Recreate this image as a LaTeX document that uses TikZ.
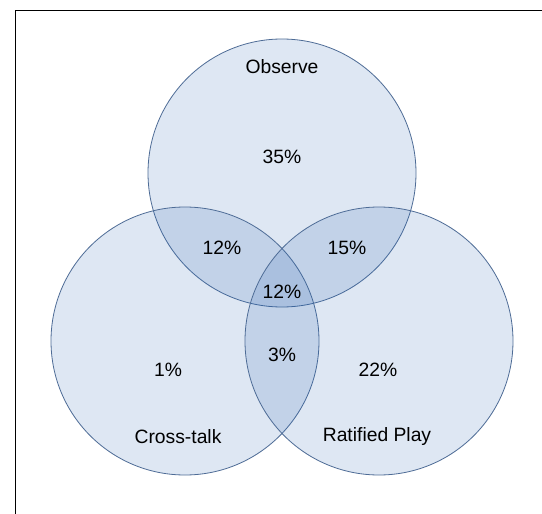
\documentclass[tikz,border=0pt]{standalone}
\usepackage{fontspec}
\setmainfont{Liberation Sans}
\usetikzlibrary{positioning}
\definecolor{vnfill}{RGB}{35,95,175}
\definecolor{vnline}{RGB}{78,108,150}

\begin{document}
\begin{tikzpicture}[
  x=1pt, y=-1pt,
  set/.style={circle, draw=vnline, line width=0.8pt, fill=vnfill, fill opacity=0.15, draw opacity=1, minimum size=268pt, inner sep=0pt},
  lbl/.style={font=\fontsize{19.3}{23}\selectfont, inner sep=1pt}
]
\useasboundingbox (0,0) rectangle (542,514);
\fill[white] (0,0) rectangle (542,514);
% frame, cut off at the page edges
\draw[line width=1.8pt] (15.5,514) -- (15.5,10.5) -- (542,10.5);
% the three sets
\node[set] (obs) at (282,173) {};
\node[set] (xtalk) at (185,341) {};
\node[set] (ratp) at (379,341) {};
% set names
\node[lbl] (obsname) at (282,67) {Observe};
\node[lbl] (xtalkname) at (178,437) {Cross-talk};
\node[lbl] (ratpname) at (377,437) {Ratified Play};
% shares per region
\node[lbl] (onlyobs) at (282,157) {35\%};
\node[lbl] (onlyxtalk) at (168,370) {1\%};
\node[lbl] (onlyratp) at (378,370) {22\%};
\node[lbl] (obsxtalk) at (222,248) {12\%};
\node[lbl] (obsratp) at (347,248) {15\%};
\node[lbl] (xtalkratp) at (282,355) {3\%};
\node[lbl] (allthree) at (282,292) {12\%};
\end{tikzpicture}
\end{document}
